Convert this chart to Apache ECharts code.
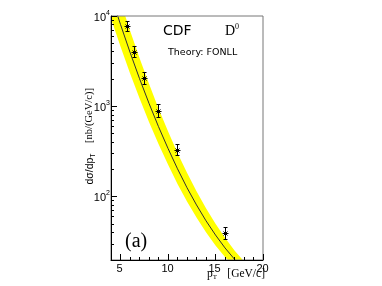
<!DOCTYPE html>
<html>
<head>
<meta charset="utf-8">
<script src="https://cdn.jsdelivr.net/npm/echarts@6/dist/echarts.min.js"></script>
<style>
html,body{margin:0;padding:0;background:#fff;}
#chart{width:382px;height:286px;}
</style>
</head>
<body>
<div id="chart"></div>
<script>
// ---- data ----
// FONLL central curve
const ptCurve = [4.5, 5, 6, 7, 8, 9, 10, 11, 12, 13, 14, 15, 16, 17, 17.5, 18];
const sigmaCurve = [11650, 8060, 3975, 2032, 1081, 597, 343, 204, 126, 81.3, 54.3, 37.8, 27.2, 20.4, 17.9, 15.8];
// FONLL uncertainty band
const ptBand = [3.5, 4, 5, 6, 7, 8, 9, 10, 11, 12, 13, 14, 15, 16, 17, 18];
const bandHigh = [47100, 31500, 14500, 6930, 3440, 1776, 951, 530, 306, 184, 115, 74.5, 50.2, 35.2, 25.5, 19.3];
const bandLow = [13650, 9400, 4595, 2333, 1230, 674, 384, 227, 139, 88.9, 58.9, 40.6, 29.0, 21.6, 16.6, 13.4];
// CDF D0 measurement
const ptData = [5.75, 6.5, 7.5, 9, 11, 16];
const sigmaData = [7630, 3975, 2028, 877, 326, 39.7];
const sigmaErrLow = [6655, 3434, 1727, 746, 283, 34.1];
const sigmaErrHigh = [8585, 4546, 2343, 1039, 375, 46.3];
// axes
const xMin = 4, xMax = 20;
const yMin = 20, yMax = 10000;
const xMajorTicks = [5, 10, 15, 20];
const xTickLabels = ['5', '10', '15', '20'];
const xMinorTicks = [6, 7, 8, 9, 11, 12, 13, 14, 16, 17, 18, 19];
const yMajorTicks = [100, 1000, 10000];
const yTickExponents = ['2', '3', '4'];
const yMinorTicks = [20, 30, 40, 50, 60, 70, 80, 90, 200, 300, 400, 500, 600, 700, 800, 900,
                     2000, 3000, 4000, 5000, 6000, 7000, 8000, 9000];

const chart = echarts.init(document.getElementById('chart'), null, {renderer: 'canvas'});

const SANS = '"Liberation Sans", Arial, sans-serif';
const SERIF = '"Liberation Serif", "Times New Roman", serif';
const LINE = {stroke: '#000', lineWidth: 1};

const curveData = ptCurve.map((p, i) => [p, sigmaCurve[i]]);
const pointData = ptData.map((p, i) => [p, sigmaData[i], sigmaErrLow[i], sigmaErrHigh[i]]);

const yTickData = yMajorTicks.map((v, i) => [xMin, v, 1, i]).concat(yMinorTicks.map(v => [xMin, v, 0, -1]));
const xTickData = xMajorTicks.map((v, i) => [v, yMin, 1, i]).concat(xMinorTicks.map(v => [v, yMin, 0, -1]));

function crisp(v) { return Math.round(v - 0.5) + 0.5; }

const option = {
  animation: false,
  backgroundColor: '#fff',
  grid: {left: 111, top: 16, width: 152, height: 244, show: true, borderColor: '#777', borderWidth: 1,
         backgroundColor: 'rgba(0,0,0,0)', z: 10},
  xAxis: {type: 'value', min: xMin, max: xMax, z: 10,
          axisLine: {show: true, onZero: false, lineStyle: {color: '#000', width: 1}},
          axisTick: {show: false}, axisLabel: {show: false}, splitLine: {show: false}},
  yAxis: {type: 'log', logBase: 10, min: yMin, max: yMax, z: 10,
          axisLine: {show: true, onZero: false, lineStyle: {color: '#000', width: 1}},
          axisTick: {show: false}, axisLabel: {show: false}, splitLine: {show: false},
          minorTick: {show: false}, minorSplitLine: {show: false}},
  series: [
    {
      type: 'custom', name: 'band', clip: true, z: 1, silent: true,
      data: [[ptBand[0], bandLow[0]]],
      renderItem: function (params, api) {
        const pts = [];
        for (let i = 0; i < ptBand.length; i++) pts.push(api.coord([ptBand[i], bandHigh[i]]));
        for (let i = ptBand.length - 1; i >= 0; i--) pts.push(api.coord([ptBand[i], bandLow[i]]));
        return {type: 'polygon', shape: {points: pts}, style: {fill: '#ffff00', stroke: null}};
      }
    },
    {
      type: 'line', name: 'FONLL', data: curveData, symbol: 'none', z: 3, silent: true,
      lineStyle: {color: '#333', width: 1}, clip: true
    },
    {
      type: 'custom', name: 'CDF', z: 4, silent: true,
      data: pointData,
      renderItem: function (params, api) {
        const c = api.coord([api.value(0), api.value(1)]);
        const lo = api.coord([api.value(0), api.value(2)]);
        const hi = api.coord([api.value(0), api.value(3)]);
        const x = crisp(c[0]), y = crisp(c[1]);
        const y1 = hi[1], y2 = lo[1];
        const ch = [];
        const ln = (a, b, cc, d) => ch.push({type: 'line', shape: {x1: a, y1: b, x2: cc, y2: d}, style: LINE});
        ln(x, y1, x, y2);
        ln(x - 2, crisp(y1), x + 2, crisp(y1));
        ln(x - 2, crisp(y2), x + 2, crisp(y2));
        ln(x - 3, y, x + 3, y);
        ln(x - 2, y - 2, x + 2, y + 2);
        ln(x - 2, y + 2, x + 2, y - 2);
        return {type: 'group', children: ch};
      }
    },
    {
      type: 'custom', name: 'yticks', z: 11, silent: true, clip: false,
      data: yTickData,
      renderItem: function (params, api) {
        const p = api.coord([api.value(0), api.value(1)]);
        const major = api.value(2) === 1;
        const x = p[0], y = crisp(p[1]);
        const ch = [{type: 'line', shape: {x1: x, y1: y, x2: x + (major ? 6 : 3), y2: y}, style: LINE}];
        if (major) {
          const idx = api.value(3);
          ch.push({type: 'text', x: x - 5, y: y + 1.5,
                   style: {text: '10', fontSize: 11, fontFamily: SANS, fill: '#000', align: 'right', verticalAlign: 'middle'}});
          ch.push({type: 'text', x: x - 5, y: y - 3.5,
                   style: {text: yTickExponents[idx], fontSize: 7, fontFamily: SANS, fill: '#000', align: 'left', verticalAlign: 'middle'}});
        }
        return {type: 'group', children: ch};
      }
    },
    {
      type: 'custom', name: 'xticks', z: 11, silent: true, clip: false,
      data: xTickData,
      renderItem: function (params, api) {
        const p = api.coord([api.value(0), api.value(1)]);
        const major = api.value(2) === 1;
        const x = crisp(p[0]), y = p[1];
        const ch = [{type: 'line', shape: {x1: x, y1: y, x2: x, y2: y - (major ? 6 : 3)}, style: LINE}];
        if (major) {
          ch.push({type: 'text', x: x - 1, y: y + 3,
                   style: {text: xTickLabels[api.value(3)], fontSize: 11, fontFamily: SANS, fill: '#000', align: 'center', verticalAlign: 'top'}});
        }
        return {type: 'group', children: ch};
      }
    }
  ],
  graphic: [
    {type: 'text', x: 163, y: 31, z: 20,
     style: {text: 'CDF', fontSize: 14, fontFamily: '"DejaVu Sans", sans-serif', fill: '#000', align: 'left', verticalAlign: 'middle'}},
    {type: 'text', x: 225, y: 31, z: 20,
     style: {text: '{d|D}{u|0}', align: 'left', verticalAlign: 'middle', fill: '#000',
             rich: {d: {fontSize: 14, fontFamily: SERIF, lineHeight: 16, fill: '#000'},
                    u: {fontSize: 8, fontFamily: SERIF, lineHeight: 8, verticalAlign: 'top', fill: '#000'}}}},
    {type: 'text', x: 168, y: 53, z: 20,
     style: {text: 'Theory: FONLL', fontSize: 9.5, fontFamily: '"DejaVu Sans", sans-serif', fill: '#000', align: 'left', verticalAlign: 'middle'}},
    {type: 'text', x: 125, y: 242, z: 20,
     style: {text: '(a)', fontSize: 20, fontFamily: SERIF, fill: '#000', align: 'left', verticalAlign: 'middle'}},
    // x axis title
    {type: 'text', x: 207, y: 274, z: 20,
     style: {text: '{p|p}{s|T}', align: 'left', verticalAlign: 'middle', fill: '#000',
             rich: {p: {fontSize: 11.5, fontFamily: SERIF, lineHeight: 13, fill: '#000'},
                    s: {fontSize: 7, fontFamily: SERIF, lineHeight: 7, verticalAlign: 'bottom', fill: '#000'}}}},
    {type: 'text', x: 265, y: 273.5, z: 20,
     style: {text: '[GeV/c]', fontSize: 11.5, fontFamily: SERIF, fill: '#000', align: 'right', verticalAlign: 'middle'}},
    // y axis title (rotated)
    {type: 'text', x: 90, y: 169, rotation: Math.PI / 2, z: 20,
     style: {text: '{a|d\u03c3/dp}{s|T}', align: 'center', verticalAlign: 'middle', fill: '#000',
             rich: {a: {fontSize: 10.5, fontFamily: SANS, lineHeight: 13, fill: '#000'},
                    s: {fontSize: 7, fontFamily: SANS, lineHeight: 7, verticalAlign: 'bottom', fill: '#000'}}}},
    {type: 'text', x: 89.5, y: 115.5, rotation: Math.PI / 2, z: 20,
     style: {text: '[nb/(GeV/c)]', fontSize: 10.5, fontFamily: SERIF, fill: '#000', align: 'center', verticalAlign: 'middle'}}
  ]
};
chart.setOption(option);
</script>
</body>
</html>
